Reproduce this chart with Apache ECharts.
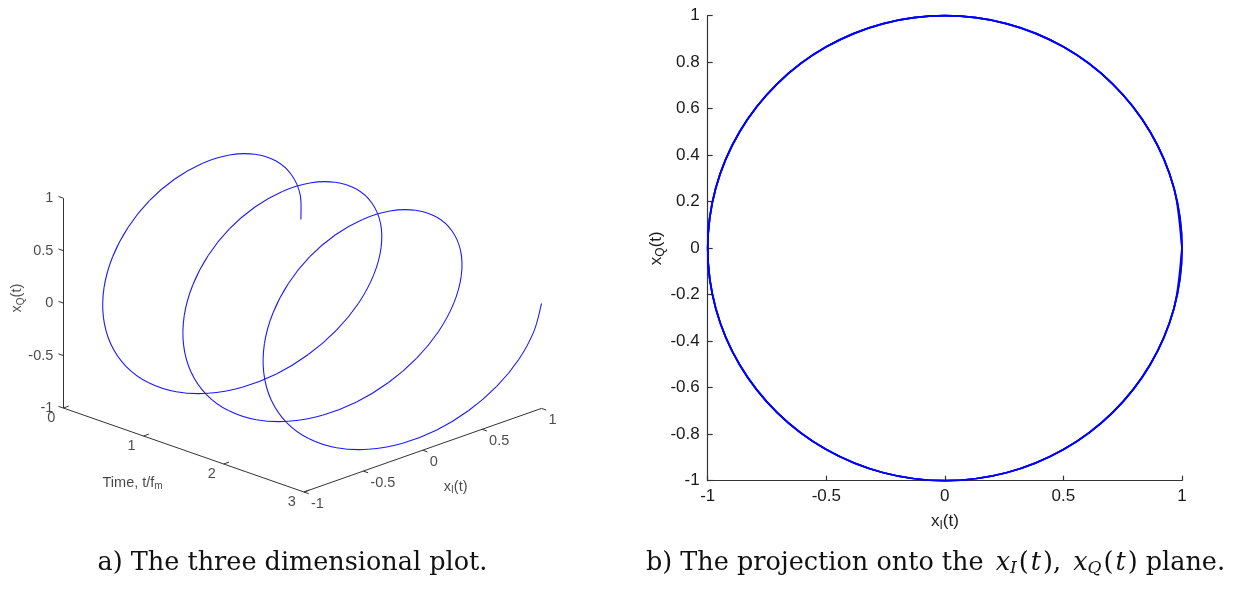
<!DOCTYPE html>
<html>
<head>
<meta charset="utf-8">
<script src="https://cdn.jsdelivr.net/npm/echarts@6/dist/echarts.min.js"></script>
<style>
html,body{margin:0;padding:0;background:#fff;}
#chart{width:1234px;height:589px;}
</style>
</head>
<body>
<div id="chart"></div>
<script>
const tValues = [
  0, 0.042, 0.083, 0.125, 0.167, 0.208, 0.25, 0.292, 0.333, 0.375, 0.417, 0.458,
  0.5, 0.542, 0.583, 0.625, 0.667, 0.708, 0.75, 0.792, 0.833, 0.875, 0.917, 0.958,
  1, 1.042, 1.083, 1.125, 1.167, 1.208, 1.25, 1.292, 1.333, 1.375, 1.417, 1.458,
  1.5, 1.542, 1.583, 1.625, 1.667, 1.708, 1.75, 1.792, 1.833, 1.875, 1.917, 1.958,
  2, 2.042, 2.083, 2.125, 2.167, 2.208, 2.25, 2.292, 2.333, 2.375, 2.417, 2.458,
  2.5, 2.542, 2.583, 2.625, 2.667, 2.708, 2.75, 2.792, 2.833, 2.875, 2.917, 2.958,
  3
];
const xIValues = [
  1, 0.966, 0.866, 0.707, 0.5, 0.259, 0, -0.259, -0.5, -0.707, -0.866, -0.966,
  -1, -0.966, -0.866, -0.707, -0.5, -0.259, 0, 0.259, 0.5, 0.707, 0.866, 0.966,
  1, 0.966, 0.866, 0.707, 0.5, 0.259, 0, -0.259, -0.5, -0.707, -0.866, -0.966,
  -1, -0.966, -0.866, -0.707, -0.5, -0.259, 0, 0.259, 0.5, 0.707, 0.866, 0.966,
  1, 0.966, 0.866, 0.707, 0.5, 0.259, 0, -0.259, -0.5, -0.707, -0.866, -0.966,
  -1, -0.966, -0.866, -0.707, -0.5, -0.259, 0, 0.259, 0.5, 0.707, 0.866, 0.966,
  1
];
const xQValues = [
  0, 0.259, 0.5, 0.707, 0.866, 0.966, 1, 0.966, 0.866, 0.707, 0.5, 0.259,
  0, -0.259, -0.5, -0.707, -0.866, -0.966, -1, -0.966, -0.866, -0.707, -0.5, -0.259,
  0, 0.259, 0.5, 0.707, 0.866, 0.966, 1, 0.966, 0.866, 0.707, 0.5, 0.259,
  0, -0.259, -0.5, -0.707, -0.866, -0.966, -1, -0.966, -0.866, -0.707, -0.5, -0.259,
  0, 0.259, 0.5, 0.707, 0.866, 0.966, 1, 0.966, 0.866, 0.707, 0.5, 0.259,
  0, -0.259, -0.5, -0.707, -0.866, -0.966, -1, -0.966, -0.866, -0.707, -0.5, -0.259,
  0
];
const timeTicks = [0, 1, 2, 3];
const xITicks3d = [-1, -0.5, 0, 0.5, 1];
const xQTicks3d = [-1, -0.5, 0, 0.5, 1];
const timeRange = [0, 3];
const xIRange = [-1, 1];
const xQRange = [-1, 1];

// ---- 3D view (orthographic projection, MATLAB-like default view), pixels per data unit on the hidden panel axes
const VIEW = { origin: [63.3, 408], perT: [80.2, 28], perI: [118.8, -41.8], perQ: [0, -104.9] };
function project(t, xi, xq) {
  const a = t - timeRange[0], b = xi - xIRange[0], c = xq - xQRange[0];
  return [VIEW.origin[0] + a * VIEW.perT[0] + b * VIEW.perI[0] + c * VIEW.perQ[0],
          VIEW.origin[1] + a * VIEW.perT[1] + b * VIEW.perI[1] + c * VIEW.perQ[1]];
}

const AX = '#333333';
const TXT = '#1a1a1a';
const SANS = 'Liberation Sans, Arial, sans-serif';
const SERIF = 'DejaVu Serif, serif';

const helixData = tValues.map((t, k) => project(t, xIValues[k], xQValues[k]));
const circleData = tValues.map((t, k) => [xIValues[k], xQValues[k]]);

// Catmull-Rom spline through the samples, each piece drawn as a cubic bezier in pixel space
function splineRenderer(points, color, width) {
  return function (params, api) {
    const i = params.dataIndex;
    const n = points.length;
    if (i >= n - 1) return null;
    const p0 = api.coord(points[Math.max(i - 1, 0)]);
    const p1 = api.coord(points[i]);
    const p2 = api.coord(points[i + 1]);
    const p3 = api.coord(points[Math.min(i + 2, n - 1)]);
    return {
      type: 'bezierCurve',
      shape: {
        x1: p1[0], y1: p1[1], x2: p2[0], y2: p2[1],
        cpx1: p1[0] + (p2[0] - p0[0]) / 6, cpy1: p1[1] + (p2[1] - p0[1]) / 6,
        cpx2: p2[0] - (p3[0] - p1[0]) / 6, cpy2: p2[1] - (p3[1] - p1[1]) / 6
      },
      style: { stroke: color, lineWidth: width, fill: null },
      silent: true
    };
  };
}

// axes lines and ticks of the 3D box
const axisSegs = [
  { coords: [project(0, -1, -1), project(0, -1, 1)] },
  { coords: [project(0, -1, -1), project(3, -1, -1)] },
  { coords: [project(3, -1, -1), project(3, 1, -1)] }
];
const tickLen = 0.06;
xQTicks3d.forEach(v => axisSegs.push({ coords: [project(0, -1, v), project(-tickLen, -1, v)] }));
timeTicks.forEach(v => axisSegs.push({ coords: [project(v, -1, -1), project(v, -1 + 0.045, -1)] }));
xITicks3d.forEach(v => axisSegs.push({ coords: [project(3, v, -1), project(3 + tickLen, v, -1)] }));

const subRich = (fs) => ({
  m: { fontSize: fs, fontFamily: SANS, color: TXT },
  s: { fontSize: Math.round(fs * 0.72), fontFamily: SANS, color: TXT, padding: [Math.round(fs * 0.5), 0, 0, 0] }
});

const CAP = 25.5;
const option = {
  animation: false,
  backgroundColor: '#fff',
  grid: [
    { left: 0, top: 0, width: 620, height: 540 },
    { left: 707.7, top: 15.7, width: 474.3, height: 465 }
  ],
  xAxis: [
    { gridIndex: 0, type: 'value', min: 0, max: 620, show: false },
    {
      gridIndex: 1, type: 'value', min: -1, max: 1, interval: 0.5,
      axisLine: { onZero: false, lineStyle: { color: AX, width: 1.2 } },
      axisTick: { inside: true, length: 5, lineStyle: { color: AX, width: 1.2 } },
      axisLabel: { color: TXT, fontSize: 17, fontFamily: SANS, margin: 7 },
      splitLine: { show: false },
      name: '{m|x}{s|I}{m|(t)}', nameLocation: 'middle', nameGap: 30,
      nameTextStyle: { rich: subRich(17) }
    }
  ],
  yAxis: [
    { gridIndex: 0, type: 'value', min: 0, max: 540, inverse: true, show: false },
    {
      gridIndex: 1, type: 'value', min: -1, max: 1, interval: 0.2,
      axisLine: { onZero: false, lineStyle: { color: AX, width: 1.2 } },
      axisTick: { inside: true, length: 5, lineStyle: { color: AX, width: 1.2 } },
      axisLabel: { color: TXT, fontSize: 17, fontFamily: SANS, margin: 8 },
      splitLine: { show: false },
      name: '{m|x}{s|Q}{m|(t)}', nameLocation: 'middle', nameGap: 40, nameRotate: 90,
      nameTextStyle: { rich: subRich(17) }
    }
  ],
  series: [
    {
      type: 'lines', coordinateSystem: 'cartesian2d', xAxisIndex: 0, yAxisIndex: 0,
      silent: true, data: axisSegs, lineStyle: { color: AX, width: 1, opacity: 1 }
    },
    {
      type: 'custom', coordinateSystem: 'cartesian2d', xAxisIndex: 0, yAxisIndex: 0,
      data: helixData, clip: false, silent: true,
      renderItem: splineRenderer(helixData, '#1a1aff', 1.1)
    },
    {
      type: 'custom', coordinateSystem: 'cartesian2d', xAxisIndex: 1, yAxisIndex: 1,
      data: circleData, clip: false, silent: true,
      renderItem: splineRenderer(circleData, '#0000ff', 1.7)
    },
    {
      type: 'scatter', xAxisIndex: 0, yAxisIndex: 0, symbolSize: 0, silent: true,
      data: xQTicks3d.map(v => ({ value: project(0, -1, v), name: String(v) })),
      label: { show: true, position: 'left', distance: 10, formatter: '{b}', color: TXT, fontSize: 14.5, fontFamily: SANS }
    },
    {
      type: 'scatter', xAxisIndex: 0, yAxisIndex: 0, symbolSize: 0, silent: true,
      data: timeTicks.map(v => ({ value: project(v, -1, -1), name: String(v) })),
      label: { show: true, position: 'inside', offset: [-12, 10], formatter: '{b}', color: TXT, fontSize: 14.5, fontFamily: SANS }
    },
    {
      type: 'scatter', xAxisIndex: 0, yAxisIndex: 0, symbolSize: 0, silent: true,
      data: xITicks3d.map(v => ({ value: project(3, v, -1), name: String(v) })),
      label: { show: true, position: 'inside', offset: [7, 12], align: 'left', formatter: '{b}', color: TXT, fontSize: 14.5, fontFamily: SANS }
    },
    {
      type: 'scatter', xAxisIndex: 0, yAxisIndex: 0, symbolSize: 0, silent: true,
      data: [
        { value: project(0, -1, 0), name: 'q', label: { offset: [5, -46], rotate: 90, formatter: '{m|x}{s|Q}{m|(t)}' } },
        { value: project(1.5, -1, -1), name: 't', label: { offset: [-51, 33], formatter: '{m|Time, t/f}{s|m}' } },
        { value: project(3, 0, -1), name: 'i', label: { offset: [33, 37], formatter: '{m|x}{s|I}{m|(t)}' } }
      ],
      label: { show: true, position: 'inside', rich: subRich(14.5) }
    }
  ],
  graphic: [
    {
      type: 'text', x: 292.5, y: 563,
      style: { text: 'a) The three dimensional plot.', font: CAP + 'px DejaVu Serif', fill: '#111', align: 'center', verticalAlign: 'middle' }
    },
    {
      type: 'text', x: 935.5, y: 563,
      style: {
        text: '{r|b) The projection onto the }{i|x}{si|I}{r|(}{it|t}{r|), }{i|x}{si|Q}{r|(}{it|t}{r|) plane.}',
        align: 'center', verticalAlign: 'middle',
        rich: {
          r: { fontFamily: SERIF, fontSize: CAP, fill: '#111' },
          i: { fontFamily: SERIF, fontSize: CAP, fontStyle: 'italic', fill: '#111', padding: [0, 0, 0, 4] },
          it: { fontFamily: SERIF, fontSize: CAP, fontStyle: 'italic', fill: '#111', padding: [0, 2, 0, 2] },
          si: { fontFamily: SERIF, fontSize: 17, fontStyle: 'italic', fill: '#111', padding: [11, 2, 0, 0] }
        }
      }
    }
  ]
};

const chart = echarts.init(document.getElementById('chart'), null, { renderer: 'canvas' });
chart.setOption(option);
</script>
</body>
</html>
